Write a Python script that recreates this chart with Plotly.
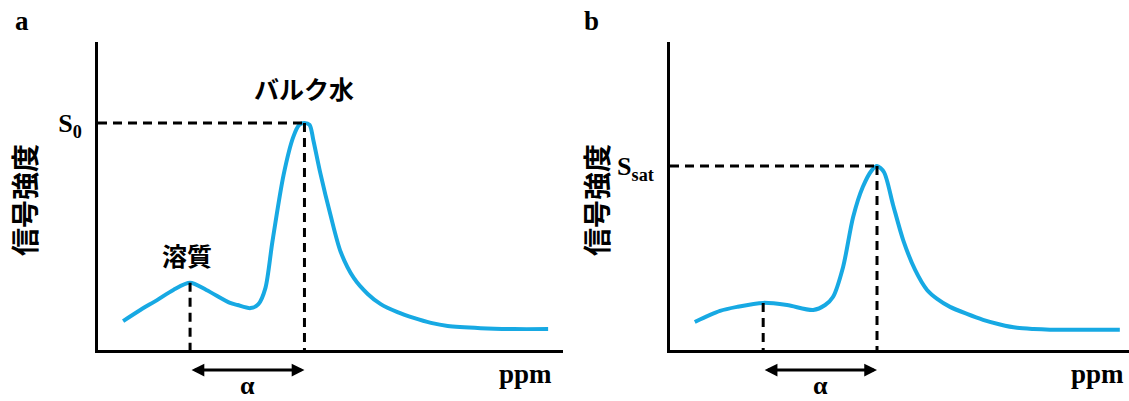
import plotly.graph_objects as go

# ---------------- data ----------------
# panel a : spectrum before saturation
a_x = [5.4, 9.1, 12.7, 16.2, 19.8, 23.3, 28.4, 30.0, 32.8, 34.5, 36.0, 37.5, 39.9, 42.0,
       43.3, 44.4, 45.5, 46.3, 47.8, 50.0, 52.2, 55.0, 58.0, 60.8, 64.4, 67.9, 71.6,
       75.2, 82.3, 89.4, 96.8]
a_y = [9.4, 13.0, 16.2, 19.5, 21.8, 19.5, 15.3, 14.6, 13.6, 14.9, 20.1, 35.1, 56.8, 69.2,
       73.1, 73.7, 73.1, 68.2, 57.5, 43.8, 31.8, 23.4, 18.2, 14.9, 12.3, 10.4, 8.8,
       7.8, 7.1, 6.8, 6.8]
a_solute = (19.8, 21.8)
a_peak = (44.4, 73.7)

# panel b : spectrum after saturation
b_x = [5.4, 10.9, 14.6, 20.3, 25.5, 31.2, 33.8, 35.5, 37.7, 39.9, 42.0, 44.0, 45.1,
       46.6, 48.6, 50.8, 53.4, 56.0, 58.2, 61.0, 64.7, 68.2, 71.9, 75.6, 79.2, 82.8,
       90.0, 98.0]
b_y = [9.1, 12.7, 14.0, 15.3, 14.6, 13.0, 14.6, 17.2, 26.9, 43.2, 52.9, 58.4, 59.7,
       57.8, 47.1, 35.7, 26.0, 19.5, 16.6, 14.0, 11.7, 9.8, 8.3, 7.2, 6.8, 6.6,
       6.6, 6.6]
b_solute = (20.3, 15.3)
b_peak = (45.1, 59.7)

panel_letters = ["a", "b"]
peak_labels = ["S<sub>0</sub>", "S<sub>sat</sub>"]
y_title = "信号強度"
x_unit = "ppm"
shift_label = "α"
bulk_label = "バルク水"
solute_label = "溶質"

# ---------------- styling ----------------
W, H = 1129, 401
BLUE = "#17a9e3"
SERIF = "Liberation Serif"
CJK = "Noto Sans CJK JP"
DASH = "9px,6px"


def px(x):
    return x / W


def py(y):
    return 1 - y / H


fig = go.Figure()

panels = [
    dict(xs=a_x, ys=a_y, sol=a_solute, peak=a_peak, xa="x", ya="y"),
    dict(xs=b_x, ys=b_y, sol=b_solute, peak=b_peak, xa="x2", ya="y2"),
]

for p in panels:
    fig.add_trace(go.Scatter(x=p["xs"], y=p["ys"], mode="lines",
                             line=dict(color=BLUE, width=4, shape="spline", smoothing=0.8),
                             xaxis=p["xa"], yaxis=p["ya"], hoverinfo="skip", showlegend=False))
    pkx, pky = p["peak"]
    sx, sy = p["sol"]
    # horizontal dashed line to peak
    fig.add_trace(go.Scatter(x=[0, pkx], y=[pky, pky], mode="lines",
                             line=dict(color="black", width=3, dash=DASH),
                             xaxis=p["xa"], yaxis=p["ya"], hoverinfo="skip", showlegend=False))
    # vertical dashed line from peak
    fig.add_trace(go.Scatter(x=[pkx, pkx], y=[pky, 0], mode="lines",
                             line=dict(color="black", width=3, dash=DASH),
                             xaxis=p["xa"], yaxis=p["ya"], hoverinfo="skip", showlegend=False))
    # vertical dashed line from solute peak
    fig.add_trace(go.Scatter(x=[sx, sx], y=[sy, 0], mode="lines",
                             line=dict(color="black", width=3, dash=DASH),
                             xaxis=p["xa"], yaxis=p["ya"], hoverinfo="skip", showlegend=False))

ydom = [py(350), py(42)]
axis_common = dict(showgrid=False, zeroline=False, showline=True, linecolor="black",
                   linewidth=3, mirror=False, fixedrange=True, automargin=False)

fig.update_layout(
    width=W, height=H,
    margin=dict(l=0, r=0, t=0, b=0, pad=0),
    paper_bgcolor="white", plot_bgcolor="white",
    showlegend=False,
    xaxis=dict(domain=[px(98), px(563)], range=[0, 100], showticklabels=False, ticks="",
               **axis_common),
    yaxis=dict(domain=ydom, range=[0, 100], tickvals=[a_peak[1]], ticktext=[peak_labels[0]],
               ticks="", ticklabelstandoff=8,
               tickfont=dict(family=SERIF, size=26, color="black", weight="bold"),
               **axis_common),
    xaxis2=dict(domain=[px(670), 1.0], range=[0, 100], showticklabels=False, ticks="",
                anchor="y2", **axis_common),
    yaxis2=dict(domain=ydom, range=[0, 100], tickvals=[b_peak[1]], ticktext=[peak_labels[1]],
                ticks="", ticklabelstandoff=8, anchor="x2",
                tickfont=dict(family=SERIF, size=26, color="black", weight="bold"),
                **axis_common),
)

ann = []
# panel letters
for letter, (lx, ly) in zip(panel_letters, [(22, 21), (591, 21)]):
    ann.append(dict(text=letter, x=px(lx), y=py(ly), xref="paper", yref="paper",
                    xanchor="center", yanchor="middle", showarrow=False,
                    font=dict(family=SERIF, size=27, color="black", weight="bold")))
# y titles
for tx in [24, 596]:
    ann.append(dict(text=y_title, x=px(tx), y=py(200), xref="paper", yref="paper",
                    xanchor="center", yanchor="middle", showarrow=False, textangle=-90,
                    font=dict(family=CJK, size=28, color="black", weight="bold")))
# ppm labels
for tx in [525, 1097]:
    ann.append(dict(text=x_unit, x=px(tx), y=py(374), xref="paper", yref="paper",
                    xanchor="center", yanchor="middle", showarrow=False,
                    font=dict(family=SERIF, size=27, color="black", weight="bold")))

for p in panels:
    pkx, pky = p["peak"]
    sx, sy = p["sol"]
    xa = p["xa"]
    # double-headed arrow between solute and bulk water
    ann.append(dict(x=pkx, y=py(370), xref=xa, yref="paper",
                    ax=sx, ay=0, axref=xa, ayref="pixel",
                    showarrow=True, arrowside="end+start",
                    arrowhead=2, startarrowhead=2, arrowsize=0.85, startarrowsize=0.85,
                    arrowwidth=3, arrowcolor="black", text=""))
    ann.append(dict(text=shift_label, x=(pkx + sx) / 2, y=py(385), xref=xa, yref="paper",
                    xanchor="center", yanchor="middle", showarrow=False,
                    font=dict(family=SERIF, size=26, color="black", weight="bold")))

# text labels of panel a
ann.append(dict(text=bulk_label, x=a_peak[0], y=85.0, xref="x", yref="y",
                xanchor="center", yanchor="middle", showarrow=False,
                font=dict(family=CJK, size=25, color="black", weight="bold")))
ann.append(dict(text=solute_label, x=a_solute[0] - 0.6, y=30.8, xref="x", yref="y",
                xanchor="center", yanchor="middle", showarrow=False,
                font=dict(family=CJK, size=25, color="black", weight="bold")))

fig.update_layout(annotations=ann)

fig.write_html("out.html", config={"displayModeBar": False},
               post_script="document.body.style.margin='0px';document.body.style.overflow='hidden';")
